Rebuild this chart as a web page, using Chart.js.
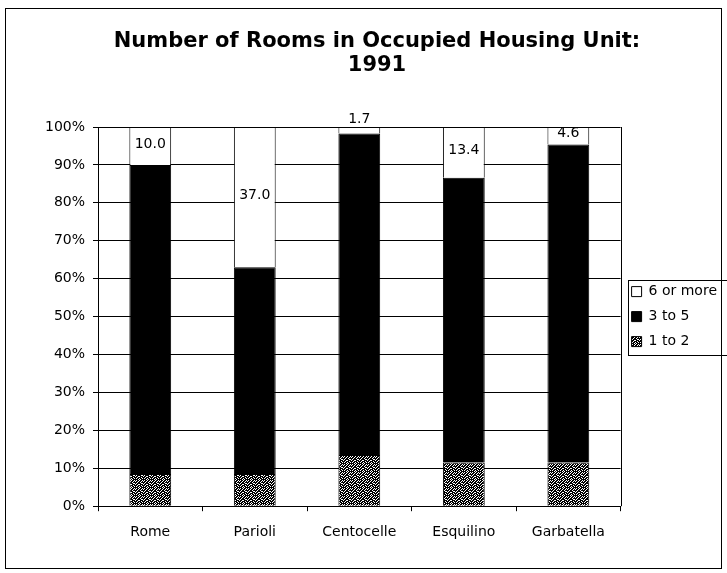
<!DOCTYPE html>
<html>
<head>
<meta charset="utf-8">
<style>
  html, body { margin: 0; padding: 0; background: #fff; }
  #wrap { width: 727px; height: 573px; position: relative; }
</style>
<script src="https://cdn.jsdelivr.net/npm/chart.js@4/dist/chart.umd.min.js"></script>
</head>
<body>
<div id="wrap"><canvas id="roomsChart" width="727" height="573"></canvas></div>
<script>
// values (percent of occupied units)
const districts = ['Rome', 'Parioli', 'Centocelle', 'Esquilino', 'Garbatella'];
const oneToTwo = [8.5, 8.5, 13.5, 11.5, 11.5];
const threeToFive = [81.5, 54.5, 84.8, 75.1, 83.9];
const sixOrMore = [10.0, 37.0, 1.7, 13.4, 4.6];
const seriesNames = ['1 to 2', '3 to 5', '6 or more'];
const titleLines = ['Number of Rooms in Occupied Housing Unit:', '1991'];

const FONT = '"DejaVu Sans", Verdana, sans-serif';

// speckled dark fill like the photocopied hatch
const makeSpeckle = () => {
  const bits = [
    '10010010',
    '00100101',
    '01001000',
    '10000110',
    '00110001',
    '01000100',
    '10010010',
    '00101000'
  ];
  const c = document.createElement('canvas');
  c.width = 8; c.height = 8;
  const g = c.getContext('2d');
  g.fillStyle = '#000';
  g.fillRect(0, 0, 8, 8);
  g.fillStyle = '#fff';
  bits.forEach((row, y) => {
    [...row].forEach((b, x) => { if (b === '1') g.fillRect(x, y, 1, 1); });
  });
  return g.createPattern(c, 'repeat');
};
const speckle = makeSpeckle();

const valueLabels = {
  id: 'valueLabels',
  afterDatasetsDraw(chart) {
    const { ctx } = chart;
    const meta = chart.getDatasetMeta(2);
    ctx.save();
    ctx.font = '14px ' + FONT;
    ctx.fillStyle = '#000';
    ctx.textAlign = 'center';
    meta.data.forEach((bar, i) => {
      const txt = sixOrMore[i].toFixed(1);
      const h = bar.base - bar.y;
      if (h > 12) {
        ctx.textBaseline = 'middle';
        ctx.fillText(txt, bar.x, (bar.y + bar.base) / 2 - 2);
      } else {
        ctx.textBaseline = 'bottom';
        ctx.fillText(txt, bar.x, bar.y - 1);
      }
    });
    ctx.restore();
  }
};

const frames = {
  id: 'frames',
  afterDraw(chart) {
    const { ctx, chartArea: a } = chart;
    ctx.save();
    ctx.strokeStyle = '#000';
    ctx.lineWidth = 1;
    // right edge of plot area
    ctx.beginPath();
    ctx.moveTo(Math.round(a.right) + 0.5, a.top);
    ctx.lineTo(Math.round(a.right) + 0.5, a.bottom);
    ctx.stroke();
    // outer chart border
    ctx.strokeRect(5.5, 8.5, 716, 560);
    // legend box
    const hb = chart.legend.legendHitBoxes;
    if (hb && hb.length) {
      const top = hb[0].top - 5;
      const bottom = hb[hb.length - 1].top + hb[hb.length - 1].height + 6;
      const left = hb[0].left - 4;
      ctx.strokeRect(Math.round(left) + 0.5, Math.round(top) + 0.5, 740, Math.round(bottom - top));
    }
    ctx.restore();
  }
};

new Chart(document.querySelector('#roomsChart'), {
  type: 'bar',
  data: {
    labels: districts,
    datasets: [
      { label: seriesNames[0], data: oneToTwo, backgroundColor: speckle, borderColor: '#000', borderWidth: 1 },
      { label: seriesNames[1], data: threeToFive, backgroundColor: '#000', borderColor: '#000', borderWidth: 1 },
      { label: seriesNames[2], data: sixOrMore, backgroundColor: '#fff', borderColor: '#000', borderWidth: 1 }
    ]
  },
  options: {
    responsive: false,
    animation: false,
    devicePixelRatio: 1,
    layout: { padding: { left: 27, right: 0, top: 0, bottom: 19 } },
    datasets: { bar: { categoryPercentage: 0.8, barPercentage: 0.5 } },
    scales: {
      x: {
        stacked: true,
        grid: { drawOnChartArea: false, color: '#000', tickLength: 5, offset: true },
        border: { color: '#000' },
        ticks: { color: '#000', font: { family: FONT, size: 14 }, padding: 13, maxRotation: 0 }
      },
      y: {
        stacked: true,
        min: 0,
        max: 100,
        afterFit: s => { s.width = 71; },
        grid: { color: '#000', tickLength: 5 },
        border: { color: '#000' },
        ticks: { stepSize: 10, color: '#000', font: { family: FONT, size: 14 }, padding: 8, callback: v => v + '%' }
      }
    },
    plugins: {
      title: {
        display: true,
        text: titleLines,
        color: '#000',
        font: { family: FONT, size: 21, weight: 'bold', lineHeight: '24px' },
        padding: { top: 30, bottom: 49 }
      },
      legend: {
        position: 'right',
        fullSize: false,
        reverse: true,
        labels: {
          color: '#000',
          font: { family: FONT, size: 14 },
          boxWidth: 10,
          boxHeight: 10,
          padding: 11
        }
      },
      tooltip: { enabled: false }
    }
  },
  plugins: [valueLabels, frames]
});
</script>
</body>
</html>
